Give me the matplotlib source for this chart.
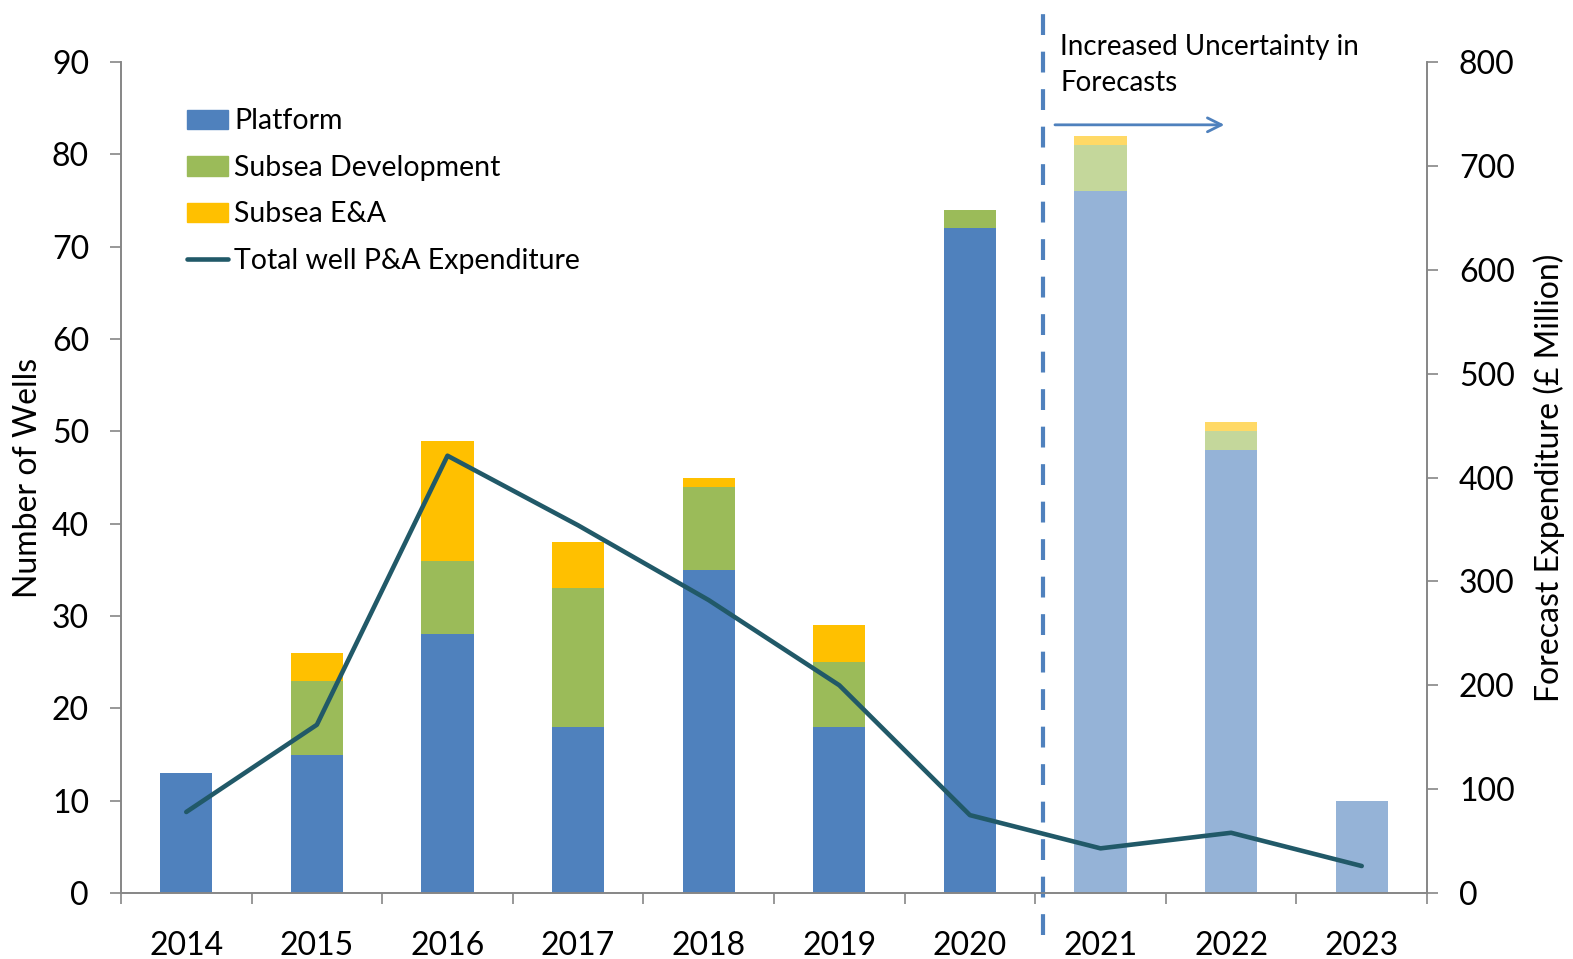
import matplotlib.pyplot as plt
import numpy as np

years = ['2014', '2015', '2016', '2017', '2018', '2019', '2020', '2021', '2022', '2023']
platform = [13, 15, 28, 18, 35, 18, 72, 76, 48, 10]
subsea_dev = [0, 8, 8, 15, 9, 7, 2, 5, 2, 0]
subsea_ea = [0, 3, 13, 5, 1, 4, 0, 1, 1, 0]
expenditure = [78, 162, 421, 354, 282, 200, 75, 43, 58, 26]
forecast_from = 7  # 2021 onwards shown lighter

plt.rcParams['font.family'] = ['Lato', 'DejaVu Sans']

dark = ['#4F81BD', '#9BBB59', '#FFC000']
light = ['#95B3D7', '#C4D79B', '#FFD966']
labels = ['Platform', 'Subsea Development', 'Subsea E&A']

fig = plt.figure(figsize=(15.73, 9.59), dpi=100)
ax = fig.add_axes([0.0769, 0.0688, 0.8303, 0.8665])
ax2 = ax.twinx()

x = np.arange(len(years))
bottom = np.zeros(len(years))
for series, c_dark, c_light, lab in zip([platform, subsea_dev, subsea_ea], dark, light, labels):
    vals = np.array(series, dtype=float)
    cols = [c_dark if i < forecast_from else c_light for i in range(len(years))]
    ax.bar(x, vals, width=0.4, bottom=bottom, color=cols, label=lab, zorder=2)
    bottom += vals

ax2.plot(x, expenditure, color='#215968', lw=3.3, solid_capstyle='round',
         label='Total well P&A Expenditure', zorder=3)

ax.set_xlim(-0.5, len(years) - 0.5)
ax.set_ylim(0, 90)
ax2.set_ylim(0, 800)
ax.set_yticks(range(0, 91, 10))
ax2.set_yticks(range(0, 801, 100))

ax.set_xticks(x)
ax.set_xticklabels(years)
ax.set_xticks(np.arange(-0.5, len(years), 1), minor=True)
ax.tick_params(axis='x', which='major', length=0, pad=27, labelsize=23)
ax.tick_params(axis='x', which='minor', length=8, color='#868686', width=1.2)
ax.tick_params(axis='y', length=8, color='#868686', width=1.2, labelsize=23, pad=15)
ax2.tick_params(axis='y', length=8, color='#868686', width=1.2, labelsize=23, pad=15)

for a in (ax, ax2):
    a.spines['top'].set_visible(False)
    for s in ('left', 'right', 'bottom'):
        a.spines[s].set_color('#868686')
        a.spines[s].set_linewidth(1.2)

ax.set_ylabel('Number of Wells', fontsize=23, labelpad=6)
ax2.set_ylabel('Forecast Expenditure (£ Million)', fontsize=23, labelpad=13)

# forecast divider
ax.axvline(6.56, ymin=-0.05, ymax=1.063, color='#4F81BD', lw=3, dashes=(5, 4),
           clip_on=False, zorder=4)
ax.annotate('', xy=(7.97, 83.2), xytext=(6.63, 83.2),
            arrowprops=dict(arrowstyle='->', color='#4F81BD', lw=2, mutation_scale=25))
ax.text(6.69, 93.0, 'Increased Uncertainty in\nForecasts', fontsize=20,
        va='top', ha='left', linespacing=1.45, clip_on=False)

h1, l1 = ax.get_legend_handles_labels()
h2, l2 = ax2.get_legend_handles_labels()
leg = ax.legend(h1 + h2, l1 + l2, loc='upper left', bbox_to_anchor=(0.031, 0.975),
                frameon=False, fontsize=20.5, handlelength=1.45, handletextpad=0.2,
                labelspacing=0.72)
for i, h in enumerate(leg.legend_handles[:3]):
    h.set_color(dark[i])

fig.savefig('out.png', dpi=100)
